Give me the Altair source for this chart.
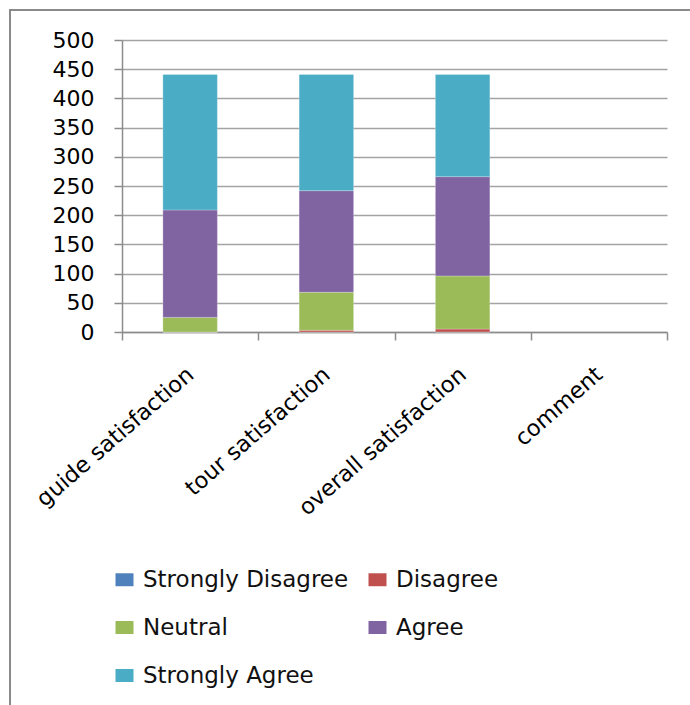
import altair as alt
import pandas as pd

# Survey categories (the last one has no responses)
categories = ["guide satisfaction", "tour satisfaction", "overall satisfaction", "comment"]
levels = ["Strongly Disagree", "Disagree", "Neutral", "Agree", "Strongly Agree"]
colors = ["#4F81BD", "#C0504D", "#9BBB59", "#8064A2", "#4BACC6"]

# Response counts per answered category
strongly_disagree = [0, 0, 0]
disagree = [0, 3, 5]
neutral = [25, 65, 91]
agree = [184, 174, 170]
strongly_agree = [232, 199, 175]

series = [strongly_disagree, disagree, neutral, agree, strongly_agree]
rows = []
for li, (level, vals) in enumerate(zip(levels, series)):
    for ci, v in enumerate(vals):
        rows.append({"category": categories[ci], "level": level, "order": li, "count": v})
df = pd.DataFrame(rows)

FONT = "DejaVu Sans"
AXIS_GREY = "#8c8c8c"

bars = alt.Chart(df).mark_bar(
    width=alt.RelativeBandSize(0.4), stroke="white", strokeWidth=0.5, strokeOpacity=0.5
).encode(
    x=alt.X(
        "category:N",
        scale=alt.Scale(domain=categories, paddingInner=0, paddingOuter=0),
        axis=alt.Axis(
            title=None, labelAngle=-41, labelAlign="right", labelBaseline="middle",
            labelFontSize=22.5, labelFont=FONT, labelColor="#000",
            tickBand="extent", tickSize=8, tickColor=AXIS_GREY, tickWidth=1.5,
            domainColor=AXIS_GREY, domainWidth=1.5, labelPadding=31,
            grid=False, labelLimit=400,
        ),
    ),
    y=alt.Y(
        "sum(count):Q",
        stack="zero",
        scale=alt.Scale(domain=[0, 500], nice=False),
        axis=alt.Axis(
            title=None, values=list(range(0, 501, 50)), labelFontSize=22, labelFont=FONT,
            labelColor="#000", tickSize=8, tickColor=AXIS_GREY, tickWidth=1.5,
            domainColor=AXIS_GREY, domainWidth=1.5, labelPadding=20,
            gridColor="#a3a3a3", gridWidth=1.5,
        ),
    ),
    color=alt.Color(
        "level:N",
        scale=alt.Scale(domain=levels, range=colors),
        legend=alt.Legend(
            title=None, orient="none", legendX=-9, legendY=528, columns=2,
            direction="horizontal",
            symbolType="M-1,-0.72H1V0.72H-1Z", symbolSize=324, symbolStrokeWidth=0,
            labelFontSize=23, labelFont=FONT, labelColor="#111",
            rowPadding=24, columnPadding=17, labelOffset=7, labelLimit=400,
        ),
    ),
    order=alt.Order("order:Q", sort="ascending"),
)

frame = alt.Chart(alt.Data(values=[{}])).mark_rect(
    fill=None, stroke="#8a8a8a", strokeWidth=2
).encode(
    x=alt.value(-112), x2=alt.value(600), y=alt.value(-30), y2=alt.value(720)
)

chart = alt.layer(bars, frame).properties(
    width=545,
    height=292,
    autosize=alt.AutoSizeParams(type="none"),
    padding={"left": 122, "top": 40, "right": 23, "bottom": 373},
    background="white",
).configure_view(stroke=None)

chart.save("out.html", embed_options={"renderer": "svg", "actions": False})
